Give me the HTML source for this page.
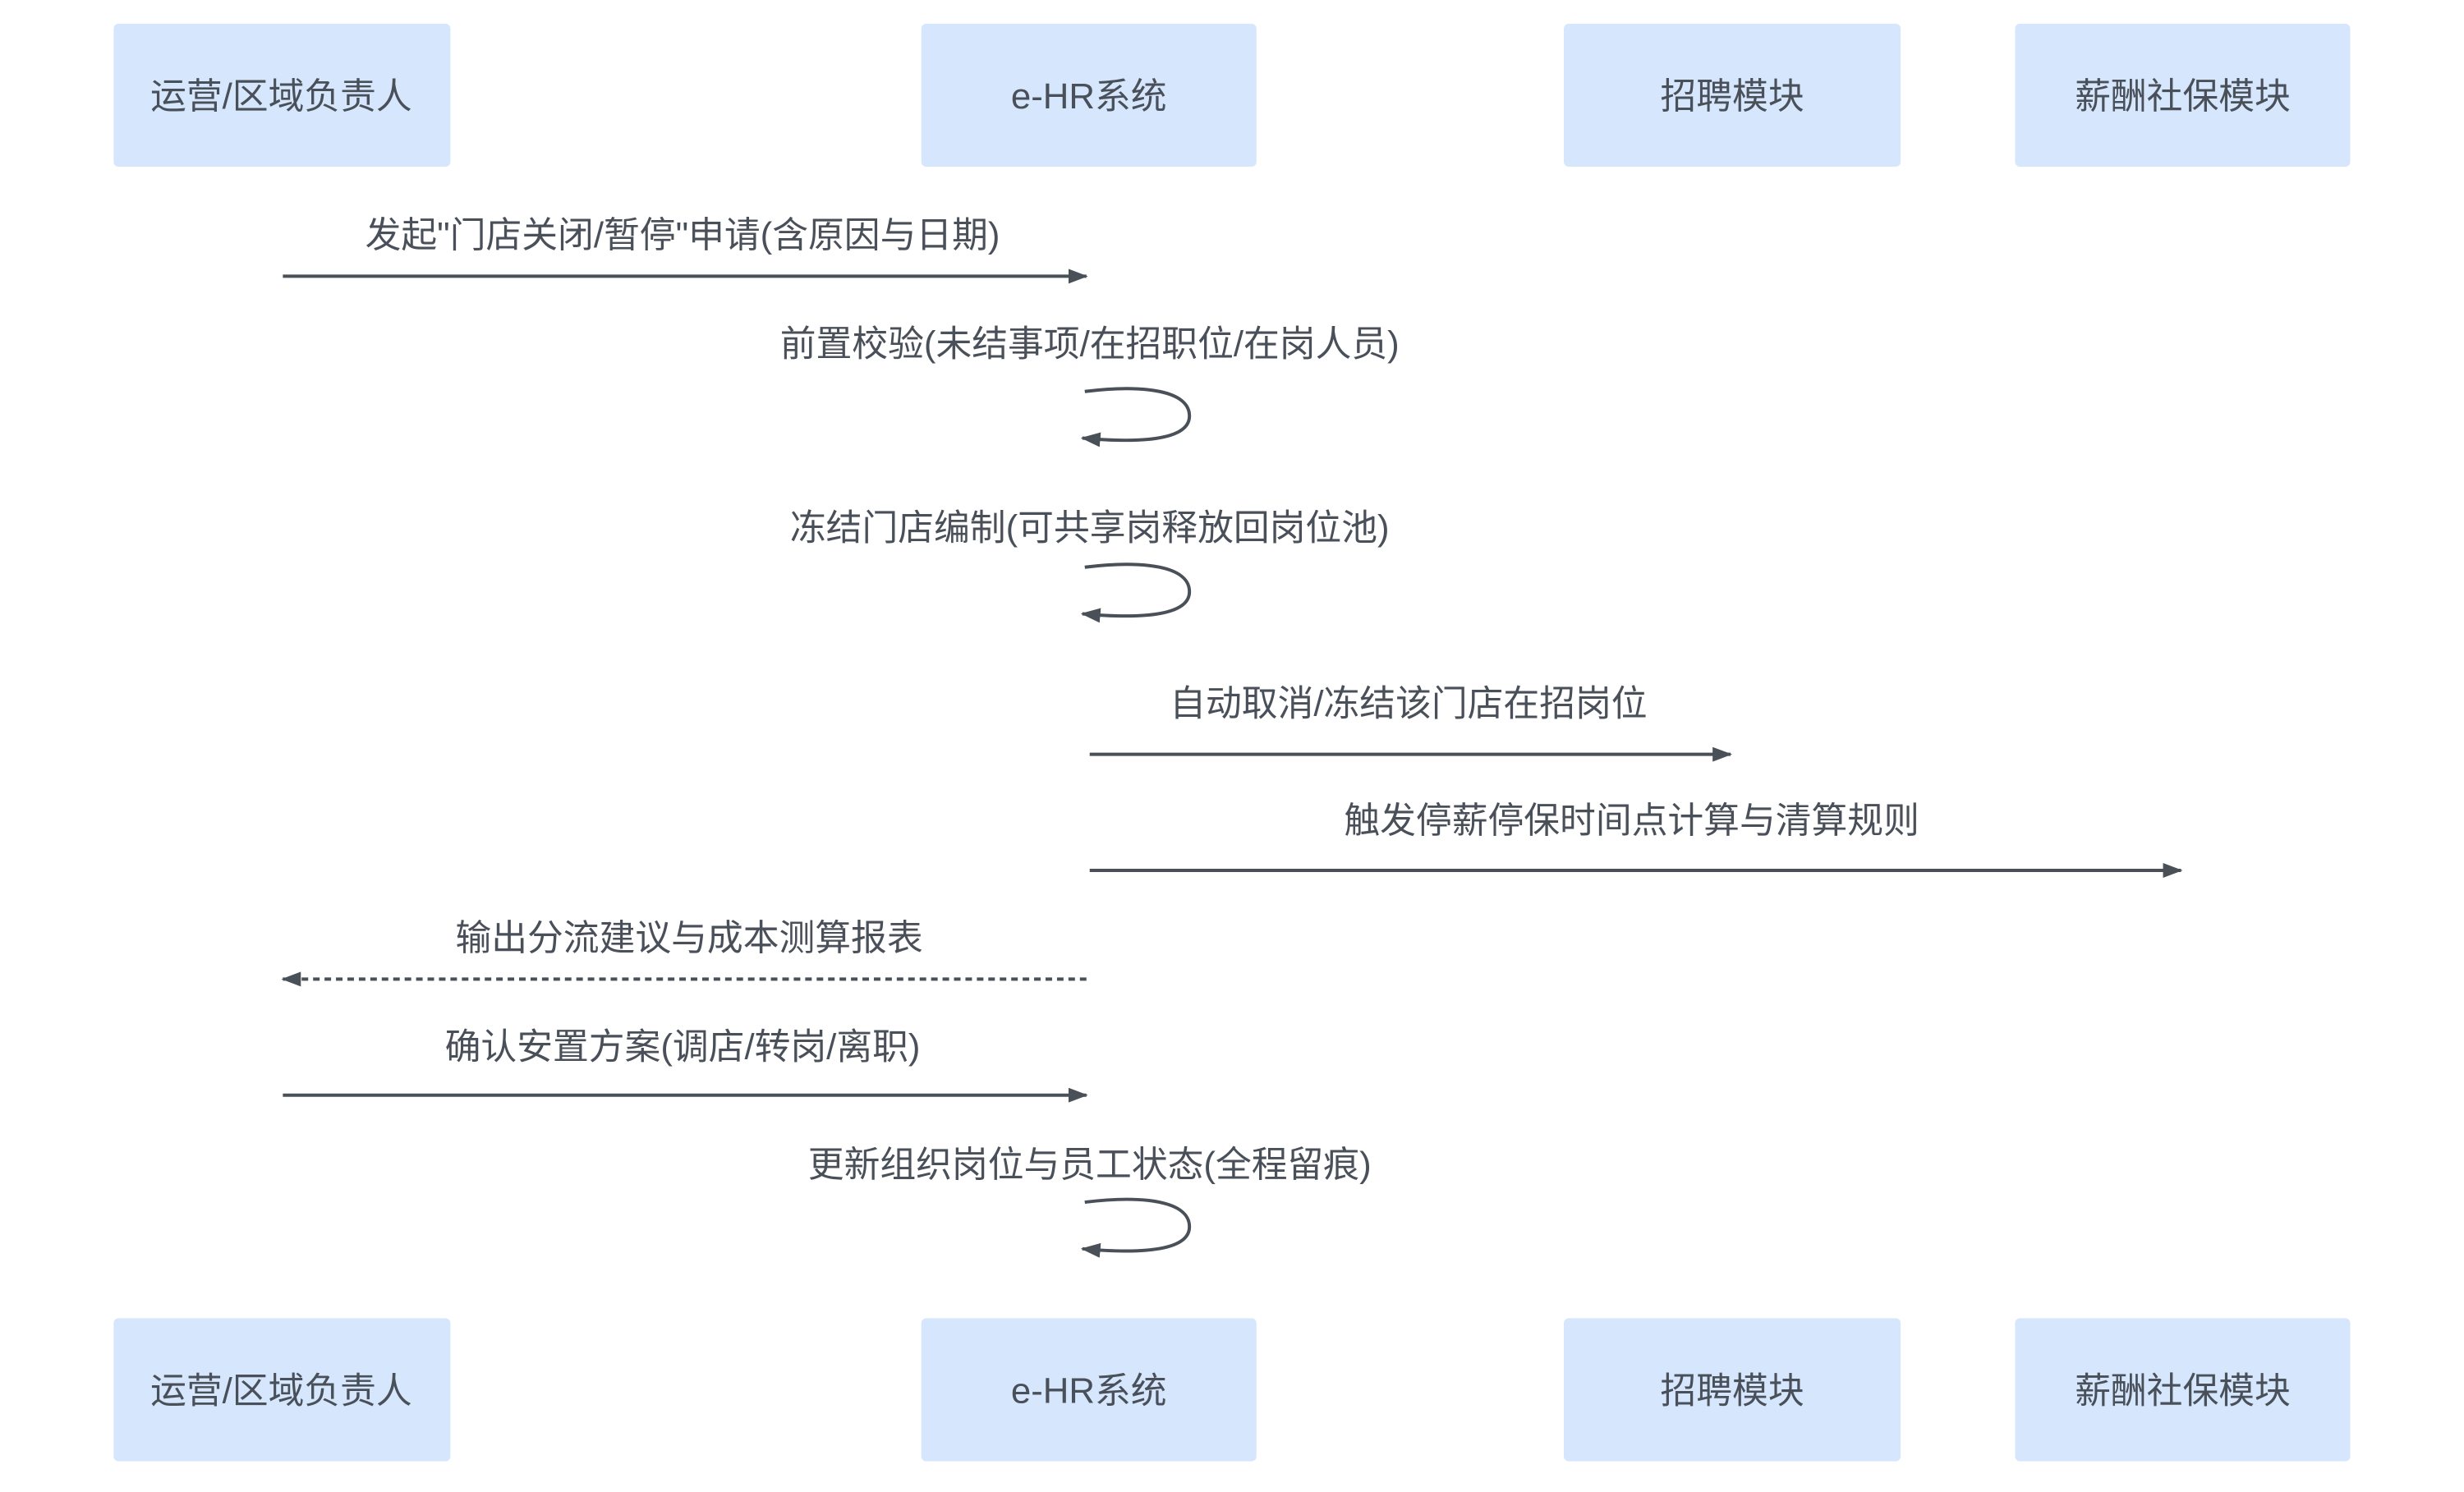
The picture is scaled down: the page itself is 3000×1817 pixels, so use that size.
<!DOCTYPE html>
<html><head><meta charset="utf-8"><style>
html,body{margin:0;padding:0;background:#fff;}
body{width:3000px;height:1812px;overflow:hidden;}
svg text{font-family:"Liberation Sans","Noto Sans CJK SC",sans-serif;fill:#4a5059;}
</style></head><body>
<svg width="3000" height="1812" viewBox="0 0 3000 1812" xmlns="http://www.w3.org/2000/svg">
<defs>
<marker id="ah" markerWidth="24" markerHeight="18" refX="22" refY="9" orient="auto" markerUnits="userSpaceOnUse"><path d="M0,0 L24,9 L0,18 Z" fill="#4a5058"/></marker>
</defs>
<g transform="scale(0.9953)">
<g fill="#d6e7fd">
<rect x="139" y="29" width="412" height="175" rx="6"/>
<rect x="1127" y="29" width="410" height="175" rx="6"/>
<rect x="1913" y="29" width="412" height="175" rx="6"/>
<rect x="2465" y="29" width="410" height="175" rx="6"/>
<rect x="139" y="1613" width="412" height="175" rx="6"/>
<rect x="1127" y="1613" width="410" height="175" rx="6"/>
<rect x="1913" y="1613" width="412" height="175" rx="6"/>
<rect x="2465" y="1613" width="410" height="175" rx="6"/>
</g>
<g font-size="44" text-anchor="middle" dominant-baseline="central">
<text x="344" y="118">运营/区域负责人</text>
<text x="1332" y="118">e-HR系统</text>
<text x="2119" y="118">招聘模块</text>
<text x="2670" y="118">薪酬社保模块</text>
<text x="344" y="1702">运营/区域负责人</text>
<text x="1332" y="1702">e-HR系统</text>
<text x="2119" y="1702">招聘模块</text>
<text x="2670" y="1702">薪酬社保模块</text>
<text x="835" y="288">发起"门店关闭/暂停"申请(含原因与日期)</text>
<text x="1333" y="421">前置校验(未结事项/在招职位/在岗人员)</text>
<text x="1333" y="646">冻结门店编制(可共享岗释放回岗位池)</text>
<text x="1723" y="861">自动取消/冻结该门店在招岗位</text>
<text x="1996" y="1004">触发停薪停保时间点计算与清算规则</text>
<text x="843" y="1148">输出分流建议与成本测算报表</text>
<text x="835" y="1281">确认安置方案(调店/转岗/离职)</text>
<text x="1333" y="1425">更新组织岗位与员工状态(全程留痕)</text>
</g>
<g stroke="#4a5058" stroke-width="4" fill="none">
<path d="M346 338 H1329" marker-end="url(#ah)"/>
<path d="M1333 923 H2117" marker-end="url(#ah)"/>
<path d="M1333 1065 H2668" marker-end="url(#ah)"/>
<path d="M1329 1198 H346" stroke-dasharray="8 6" marker-end="url(#ah)"/>
<path d="M346 1340 H1329" marker-end="url(#ah)"/>
<path d="M1327 479 C1400 470 1455 478 1455 509 C1455 540 1390 542 1324 536" marker-end="url(#ah)"/>
<path d="M1327 694 C1400 685 1455 693 1455 724 C1455 755 1390 757 1324 751" marker-end="url(#ah)"/>
<path d="M1327 1471 C1400 1462 1455 1470 1455 1501 C1455 1532 1390 1534 1324 1528" marker-end="url(#ah)"/>
</g>
</g>
</svg>
</body></html>
